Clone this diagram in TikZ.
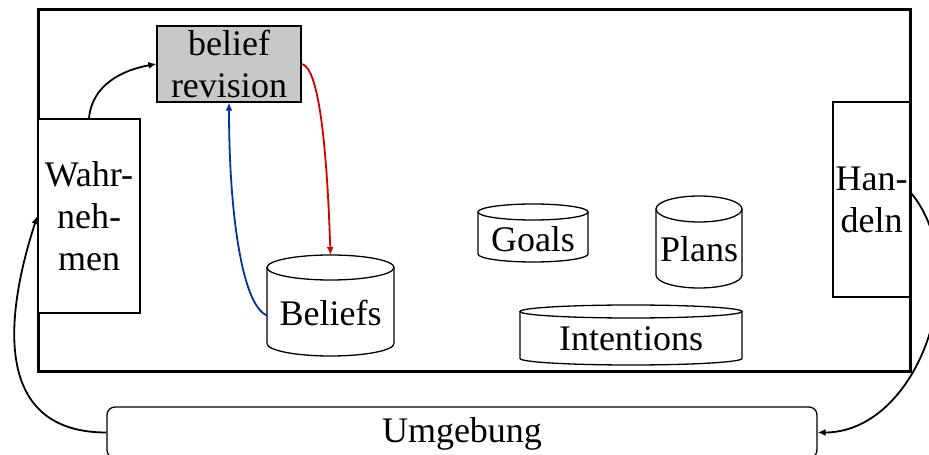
\documentclass[tikz,border=0pt]{standalone}
\usepackage{fontspec}
\setmainfont{Liberation Serif}
\usetikzlibrary{arrows.meta,calc}
\definecolor{revgray}{RGB}{200,200,200}
\definecolor{arrred}{RGB}{210,0,0}
\definecolor{arrblue}{RGB}{0,50,160}
\tikzset{
  txt/.style={font=\fontsize{36}{42}\selectfont, inner sep=0pt, align=center},
  boxa/.style={draw, line width=1.3pt, inner sep=0pt, align=center, font=\fontsize{36}{42}\selectfont},
  conn/.style={line width=1.8pt, -{Latex[length=8pt,width=7pt]}},
  cyl/.style={line width=1.3pt}
}
% cylinder: name, x1, x2, ytop, ybottom, ry
\newcommand\mycyl[6]{%
  \draw[cyl] (#2,#4-#6) -- (#2,#5+#6) arc[start angle=180,end angle=360,x radius={(#3-#2)/2},y radius=#6] -- (#3,#4-#6);
  \draw[cyl] ({(#2+#3)/2},#4-#6) ellipse[x radius={(#3-#2)/2},y radius=#6];
  \coordinate (#1-n) at ({(#2+#3)/2},#4);
  \coordinate (#1-w) at (#2,{(#4+#5)/2-10});
}
\begin{document}
\begin{tikzpicture}[x=1pt,y=1pt]
\useasboundingbox (0,0) rectangle (929,455);
% outer agent box
\draw[line width=3pt] (38,83) rectangle (910,445);
% boxes
\node[boxa, fill=revgray, minimum width=144pt, minimum height=76pt] (br) at (229,391) {belief\\revision};
\node[boxa, fill=white, minimum width=102pt, minimum height=194pt] (wahr) at (89,239) {Wahr-\\neh-\\men};
\node[boxa, fill=white, minimum width=77pt, minimum height=195pt] (hand) at (871.5,255.5) {Han-\\deln};
\node[draw, line width=1.3pt, rounded corners=8pt, minimum width=710pt, minimum height=51pt, inner sep=0pt] (umg) at (462,22.5) {};
\node[txt] (umgt) at (462,21) {Umgebung};
% cylinders (x1, x2, ytop, ybottom, ry)
\mycyl{bel}{267}{394}{200}{99}{12.5}
\node[txt] (belt) at (330.5,142) {Beliefs};
\mycyl{goa}{478}{588}{251}{193}{8}
\node[txt] (goat) at (533,216) {Goals};
\mycyl{pla}{656}{742}{259}{167}{13}
\node[txt] (plat) at (699,206) {Plans};
\mycyl{int}{520}{742}{150}{90}{6.5}
\node[txt] (intt) at (631,116) {Intentions};
% connectors
\draw[conn] (wahr.north) to[out=85,in=190] (br.west);
\draw[conn, arrred] (br.east) .. controls +(16,-3) and +(-4,120) .. (bel-n);
\draw[conn, arrblue] (bel-w) .. controls +(-25,10) and +(0,-110) .. (br.south);
\draw[conn] (umg.west) to[out=180,in=252,looseness=1.25] (wahr.west);
\draw[conn] ([yshift=7pt]hand.east) to[out=-50,in=0,looseness=1] (umg.east);
\end{tikzpicture}
\end{document}
